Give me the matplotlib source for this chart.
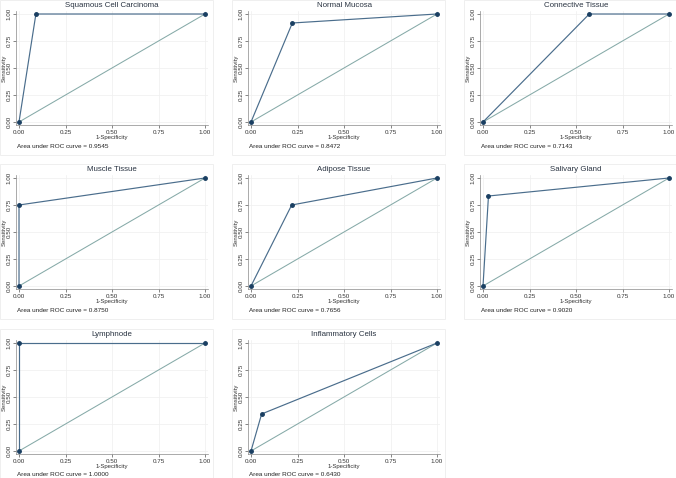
import matplotlib
matplotlib.use("Agg")
import matplotlib.pyplot as plt
from matplotlib.patches import Rectangle

plt.rcParams['font.family'] = ['Liberation Sans', 'DejaVu Sans']

# ROC operating points (one cut-off per tissue)
titles = ["Squamous Cell Carcinoma", "Normal Mucosa", "Connective Tissue",
          "Muscle Tissue", "Adipose Tissue", "Salivary Gland",
          "Lymphnode", "Inflammatory Cells"]
fpr = [0.0909, 0.2222, 0.5714, 0.0, 0.2188, 0.0294, 0.0, 0.0571]
sens = [1.0, 0.9167, 1.0, 0.75, 0.75, 0.8333, 1.0, 0.3429]
auc = [0.9545, 0.8472, 0.7143, 0.8750, 0.7656, 0.9020, 1.0000, 0.6430]
ticks = [0.0, 0.25, 0.5, 0.75, 1.0]

W, H = 676, 478
fig = plt.figure(figsize=(W / 100, H / 100), dpi=100)

roc_col = '#4a6d8c'
mark_col = '#1a3f62'
ref_col = '#86aaa8'
txt_col = '#2a3442'

# pixel positions of data (0,0) and width/height of unit square
col_x0 = [19, 251, 483]
row_y0 = [122, 286, 451]   # pixel y of sensitivity 0
dw, dh = 186, 108
mx, my = 0.015, 0.03

def fx(px):
    return px / W

def fy(py):
    return 1 - py / H

for i, name in enumerate(titles):
    r, c = divmod(i, 3)
    x0 = col_x0[c]
    y0 = row_y0[r]

    # faint panel box
    fig.patches.append(Rectangle((fx(x0 - 19), fy(y0 + 33)), 213 / W, 155 / H,
                                 transform=fig.transFigure, fill=False,
                                 edgecolor='#ededed', linewidth=0.6))

    left = x0 - mx * dw
    bottom = y0 + my * dh
    ax = fig.add_axes([fx(left), fy(bottom), dw * (1 + 2 * mx) / W, dh * (1 + 2 * my) / H])
    ax.set_xlim(-mx, 1 + mx)
    ax.set_ylim(-my, 1 + my)

    ax.plot([0, 1], [0, 1], color=ref_col, linewidth=0.75, zorder=2)
    ax.plot([0, fpr[i], 1], [0, sens[i], 1], color=roc_col, linewidth=0.85,
            marker='o', markersize=2.5, markerfacecolor=mark_col,
            markeredgecolor=mark_col, zorder=3, clip_on=False)

    ax.set_xticks(ticks)
    ax.set_yticks(ticks)
    ax.set_xticklabels(["%.2f" % t for t in ticks])
    ax.set_yticklabels(["%.2f" % t for t in ticks], rotation=90, va='center')
    ax.tick_params(axis='both', labelsize=4.5, length=2, width=0.5, pad=1.2,
                   colors='#555555', labelcolor='#333333')
    ax.grid(True, color='#efefef', linewidth=0.5)
    ax.set_axisbelow(True)
    for s in ['top', 'right']:
        ax.spines[s].set_visible(False)
    for s in ['left', 'bottom']:
        ax.spines[s].set_color('#888888')
        ax.spines[s].set_linewidth(0.5)

    ax.set_xlabel("1-Specificity", fontsize=4.3, color='#333333', labelpad=0.3)
    ax.set_ylabel("Sensitivity", fontsize=4.3, color='#333333', labelpad=0.3)
    ax.set_title(name, fontsize=5.7, color=txt_col, pad=2.5)

    fig.text(fx(x0 - 2), fy(y0 + 24), "Area under ROC curve = %.4f" % auc[i],
             fontsize=4.6, color='#222222', va='center', ha='left')

fig.savefig("out.png", dpi=100, facecolor='white')
